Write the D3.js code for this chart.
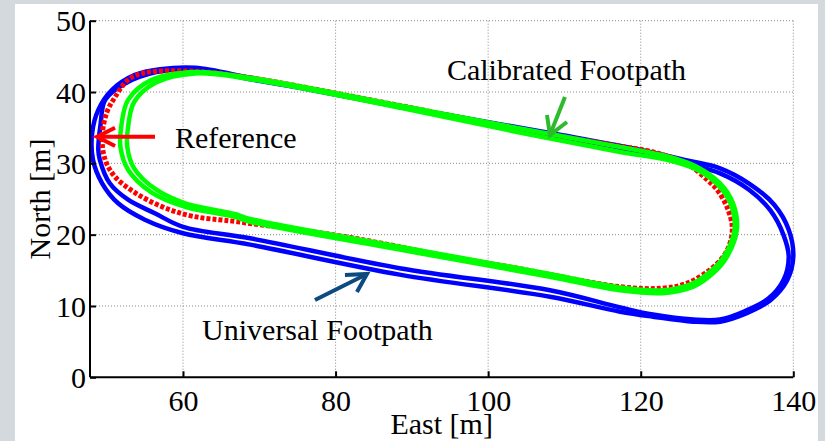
<!DOCTYPE html>
<html><head><meta charset="utf-8">
<script src="https://cdn.jsdelivr.net/npm/d3@7"></script>
<style>
html,body{margin:0;padding:0;background:#d3d9dd;}
svg{display:block;}
text{font-family:"Liberation Serif","Times New Roman",serif;fill:#000;}
</style></head>
<body>
<svg id="chart" width="825" height="441"></svg>
<script>
// ---- data (East [m], North [m]) ----
const xTicks = [60, 80, 100, 120, 140];
const yTicks = [0, 10, 20, 30, 40, 50];
const xDomain = [47.81, 140];
const yDomain = [0, 50];

const universalLap1 = [[61.6,43.4],[68.8,42.0],[75.3,40.7],[88.4,38.0],[101.5,35.5],[109.4,34.0],[119.9,31.9],[126.1,30.4],[130.4,29.3],[134.3,27.1],[137.5,24.2],[139.4,20.7],[140.0,16.9],[139.2,13.6],[137.0,10.8],[133.9,9.0],[130.4,7.8],[126.9,7.8],[121.6,8.5],[117.3,9.2],[108.1,11.3],[88.4,14.4],[68.8,18.6],[60.0,20.2],[55.0,22.1],[51.5,24.4],[49.4,27.2],[48.2,30.5],[48.1,34.3],[48.9,37.5],[50.7,40.3],[53.7,42.4],[57.0,43.2]];
const universalLap2 = [[61.6,43.2],[68.8,41.8],[75.3,40.6],[88.4,37.9],[101.5,35.3],[109.4,33.8],[119.9,31.6],[126.1,29.9],[130.4,28.6],[134.2,26.3],[137.0,23.4],[138.7,20.0],[139.4,16.9],[138.7,13.6],[136.7,11.0],[133.7,9.3],[130.4,8.1],[126.9,8.1],[121.6,8.8],[117.3,9.8],[108.1,12.2],[88.4,15.3],[68.8,19.5],[60.0,21.1],[56.3,23.0],[52.8,24.9],[50.4,27.2],[49.1,30.5],[48.9,31.9],[49.2,35.5],[49.8,38.9],[52.4,41.2],[56.5,42.8]];

const calibratedLap1 = [[61.6,42.8],[68.8,42.0],[88.4,38.1],[105.1,34.7],[117.3,32.3],[123.8,30.9],[127.4,29.5],[130.4,27.2],[132.1,24.4],[132.6,20.7],[131.3,16.9],[129.5,14.6],[126.9,12.7],[122.9,11.8],[117.3,12.2],[108.1,14.1],[88.4,17.9],[68.8,21.8],[66.8,22.5],[60.3,23.9],[55.9,25.9],[52.8,29.1],[51.8,32.3],[51.9,35.1],[52.8,38.9],[55.9,41.7]];
const calibratedLap2 = [[61.6,42.6],[68.8,41.8],[88.4,37.8],[105.1,34.1],[117.3,31.6],[123.8,30.4],[127.4,29.1],[130.1,27.0],[131.8,24.3],[132.3,20.7],[131.0,17.1],[129.2,14.9],[126.7,13.1],[122.9,12.2],[117.3,12.6],[108.1,14.5],[88.4,18.3],[68.8,22.2],[66.8,22.9],[60.3,24.4],[56.5,26.3],[53.6,29.3],[52.7,32.3],[52.8,35.1],[53.6,38.6],[56.4,41.3]];

const referencePath = [[61.6,42.9],[68.8,42.0],[88.4,38.1],[105.1,34.6],[117.3,32.4],[121.6,31.6],[126.1,29.9],[128.7,27.7],[130.0,26.3],[131.3,23.9],[132.0,21.1],[131.7,18.8],[130.8,16.9],[129.1,15.1],[126.1,13.2],[122.9,12.5],[117.3,12.7],[103.8,15.3],[95.0,16.9],[81.9,19.6],[67.2,21.8],[61.2,22.6],[57.3,23.9],[53.7,25.9],[51.1,28.1],[49.8,30.5],[49.4,33.7],[50.0,37.1],[51.1,39.3],[52.8,41.7],[55.0,42.7]];

// annotations (data coordinates)
const labels = [
  {text:"Reference", x:58.95, y:32.15},
  {text:"Calibrated Footpath", x:94.6, y:41.7},
  {text:"Universal Footpath", x:62.5, y:5.23}
];
const arrowRef = [[56.33,33.72],[48.73,33.72]];
const arrowRefHead = [[51.09,34.98],[48.73,33.72],[51.09,32.44]];
const arrowCal = [[110.07,39.3],[108.1,33.97]];
const arrowCalHead = [[107.71,36.78],[108.1,33.97],[110.33,35.8]];
const arrowUni = [[77.3,10.84],[84.12,14.48]];
const arrowUniHead = [[81.23,14.34],[84.12,14.48],[82.8,11.96]];

// ---- drawing ----
const svg = d3.select("#chart");
const plot = {left:90, right:793.3, top:20.7, bottom:377.3};

svg.append("rect").attr("x",15).attr("y",4).attr("width",803).attr("height",437).attr("fill","#fff");

const x = d3.scaleLinear().domain(xDomain).range([plot.left, plot.right]);
const y = d3.scaleLinear().domain(yDomain).range([plot.bottom, plot.top]);

// grid
const grid = svg.append("g").attr("stroke","#8a8a8a").attr("stroke-width",1).attr("stroke-dasharray","1,2");
xTicks.forEach(t => grid.append("line").attr("x1",x(t)).attr("x2",x(t)).attr("y1",plot.top).attr("y2",plot.bottom));
yTicks.filter(t=>t>0).forEach(t => grid.append("line").attr("x1",plot.left).attr("x2",plot.right).attr("y1",y(t)).attr("y2",y(t)));

const line = d3.line().x(d=>x(d[0])).y(d=>y(d[1])).curve(d3.curveCatmullRomClosed.alpha(0.5));
const open = d3.line().x(d=>x(d[0])).y(d=>y(d[1]));

const tracks = svg.append("g").attr("fill","none").attr("stroke-linejoin","round");
[universalLap1, universalLap2].forEach(p => tracks.append("path").attr("d", line(p)).attr("stroke","#0000ff").attr("stroke-width",4.5));
tracks.append("path").attr("d", line(referencePath)).attr("stroke","#ff0000").attr("stroke-width",5).attr("stroke-dasharray","4,2");
[calibratedLap1, calibratedLap2].forEach(p => tracks.append("path").attr("d", line(p)).attr("stroke","#00ff00").attr("stroke-width",4.5));

// axes
const xAxis = d3.axisBottom(x).tickValues(xTicks).tickSize(-6).tickPadding(12).tickSizeOuter(0);
const yAxis = d3.axisLeft(y).tickValues(yTicks).tickSize(-6).tickPadding(4).tickSizeOuter(0);
const gx = svg.append("g").attr("transform",`translate(0,${plot.bottom})`).call(xAxis);
const gy = svg.append("g").attr("transform",`translate(${plot.left},0)`).call(yAxis);
[gx, gy].forEach(g => {
  g.select(".domain").attr("stroke","#000").attr("stroke-width",2);
  g.selectAll(".tick line").attr("stroke","#000").attr("stroke-width",2);
  g.selectAll("text").attr("font-size",30).attr("font-family","'Liberation Serif','Times New Roman',serif").attr("fill","#000");
});
gx.select(".domain").attr("d",`M${plot.left},0H${plot.right}`);
gy.select(".domain").attr("d",`M0,${plot.bottom}V${plot.top}`);
gx.selectAll("text").attr("dy","0.71em");
gy.selectAll("text").attr("dy","0.34em");

// axis titles
svg.append("text").attr("x",(plot.left+plot.right)/2).attr("y",434).attr("text-anchor","middle").attr("font-size",30).text("East [m]");
svg.append("text").attr("transform",`translate(50,${(plot.top+plot.bottom)/2}) rotate(-90)`).attr("text-anchor","middle").attr("font-size",30).text("North [m]");

// annotations
labels.forEach(l => svg.append("text").attr("x",x(l.x)).attr("y",y(l.y)).attr("font-size",30).text(l.text));
const arrows = svg.append("g").attr("fill","none").attr("stroke-width",4).attr("stroke-linecap","butt");
[[arrowRef,arrowRefHead,"#ff0000"],[arrowCal,arrowCalHead,"#2dba2d"],[arrowUni,arrowUniHead,"#0c4a80"]].forEach(([a,h,c]) => {
  arrows.append("path").attr("d",open(a)).attr("stroke",c);
  arrows.append("path").attr("d",open(h)).attr("stroke",c).attr("stroke-linejoin","miter");
});
</script>
</body></html>
